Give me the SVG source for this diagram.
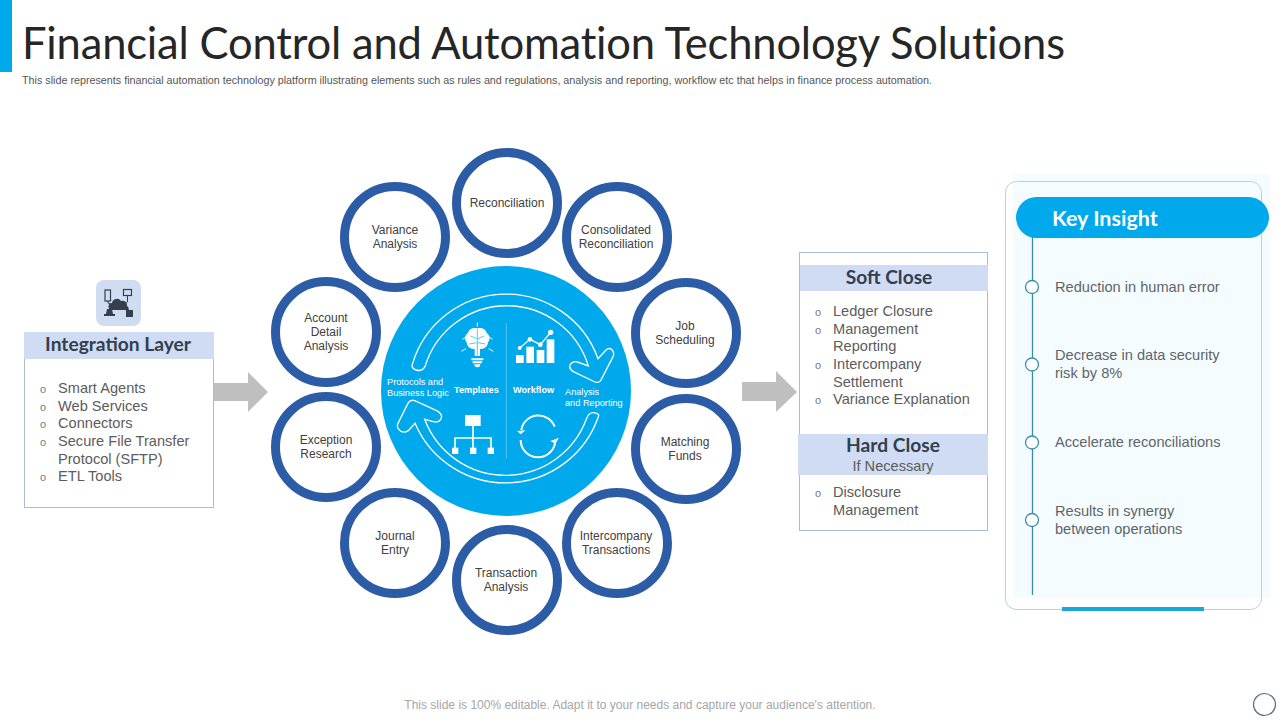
<svg xmlns="http://www.w3.org/2000/svg" width="1280" height="720" viewBox="0 0 1280 720">
<style>
text{font-family:"Liberation Sans",Arial,sans-serif}
.ring{fill:#fff;stroke:#2d5ca6;stroke-width:9}
.rl{font-size:12px;fill:#404040;text-anchor:middle}
.hd{font-family:Lato,"Liberation Sans",sans-serif;font-weight:700;font-size:19.2px;fill:#333f4d;text-anchor:middle}
.li{font-size:14.6px;fill:#5c5c5c}
.ins{font-size:14.6px;fill:#5f646b}
.bul{font-size:11px;fill:#7a7a7a}
.band{fill:#cfdcf3}
.box{fill:#fff;stroke:#a9bdd4;stroke-width:1}
.ah{fill:#bfbfbf}
.dot{fill:#fff;stroke:#3b8ca8;stroke-width:1.3}
.w{fill:#fff}
.wl{fill:none;stroke:#fff;stroke-width:1.3}
.wt{fill:#fff;font-size:9.2px}
</style>
<rect width="1280" height="720" fill="#fff"/>
<g id="header">
<rect x="0" y="0" width="12" height="72" fill="#00a8ec"/>
<text x="22" y="59" font-size="43.500" fill="#262626" style="font-family:Lato,'Liberation Sans',sans-serif;font-variant-ligatures:none" textLength="1043" lengthAdjust="spacing">Financial Control and Automation Technology Solutions</text>
<text x="22" y="84" font-size="10.750" fill="#555">This slide represents financial automation technology platform illustrating elements such as rules and regulations, analysis and reporting, workflow etc that helps in finance process automation.</text>
</g>
<g id="connectors">
<path class="ah" d="M214 383H248V372L268 392L248 412V401H214Z"/>
<path class="ah" d="M742 382H776V371L797 392L776 412V401H742Z"/>
</g>
<g id="integration-layer">
<rect x="96" y="280" width="45" height="46" rx="8" fill="#d0dcf2"/>
<g fill="#333f4d" stroke="#333f4d">
<rect x="105" y="290" width="5.500" height="11" fill="none" stroke-width="1.200"/>
<rect x="123.500" y="289.500" width="8" height="6" fill="none" stroke-width="1.200"/>
<path d="M108 301V303L113 305M127.500 296V302L125 304M113 309L109 311M126 308L129 310" fill="none" stroke-width="1"/>
<path d="M112 310a3.500 3.500 0 0 1 0-7a5 5 0 0 1 9-2a4.500 4.500 0 0 1 6 5a2.500 2.500 0 0 1 1 4Z" stroke="none"/>
<path d="M107 309h5l1 5h2v2h-11v-2h2Z" stroke="none"/>
<rect x="126" y="310" width="7" height="7" stroke="none"/>
</g>
<rect class="box" x="24.500" y="340" width="189" height="167.500"/>
<rect class="band" x="24" y="332" width="190" height="27"/>
<text class="hd" x="118" y="351">Integration Layer</text>
<text class="bul" x="40" y="393">o</text><text class="li" x="58" y="393">Smart Agents</text>
<text class="bul" x="40" y="411">o</text><text class="li" x="58" y="411">Web Services</text>
<text class="bul" x="40" y="428">o</text><text class="li" x="58" y="428">Connectors</text>
<text class="bul" x="40" y="446">o</text><text class="li" x="58" y="446">Secure File Transfer</text>
<text class="li" x="58" y="464">Protocol (SFTP)</text>
<text class="bul" x="40" y="481">o</text><text class="li" x="58" y="481">ETL Tools</text>
</g>
<g id="node-reconciliation"><circle class="ring" cx="507" cy="203" r="50.500"/><text class="rl" x="507" y="207">Reconciliation</text></g>
<g id="node-consolidated"><circle class="ring" cx="617" cy="237" r="50.500"/><text class="rl" x="616" y="234">Consolidated</text><text class="rl" x="616" y="248">Reconciliation</text></g>
<g id="node-job"><circle class="ring" cx="686" cy="333" r="50.500"/><text class="rl" x="685" y="330">Job</text><text class="rl" x="685" y="344">Scheduling</text></g>
<g id="node-matching"><circle class="ring" cx="686" cy="449" r="50.500"/><text class="rl" x="685" y="446">Matching</text><text class="rl" x="685" y="460">Funds</text></g>
<g id="node-intercompany"><circle class="ring" cx="617" cy="543" r="50.500"/><text class="rl" x="616" y="540">Intercompany</text><text class="rl" x="616" y="554">Transactions</text></g>
<g id="node-transaction"><circle class="ring" cx="507" cy="580" r="50.500"/><text class="rl" x="506" y="577">Transaction</text><text class="rl" x="506" y="591">Analysis</text></g>
<g id="node-journal"><circle class="ring" cx="395" cy="543" r="50.500"/><text class="rl" x="395" y="540">Journal</text><text class="rl" x="395" y="554">Entry</text></g>
<g id="node-exception"><circle class="ring" cx="326" cy="447" r="50.500"/><text class="rl" x="326" y="444">Exception</text><text class="rl" x="326" y="458">Research</text></g>
<g id="node-account"><circle class="ring" cx="326" cy="332" r="50.500"/><text class="rl" x="326" y="322">Account</text><text class="rl" x="326" y="336">Detail</text><text class="rl" x="326" y="350">Analysis</text></g>
<g id="node-variance"><circle class="ring" cx="395" cy="237" r="50.500"/><text class="rl" x="395" y="234">Variance</text><text class="rl" x="395" y="248">Analysis</text></g>
<g id="hub">
<circle cx="506" cy="391" r="125" fill="#00a8ec"/>
<g transform="translate(380 260) scale(.33333)">
<path class="wl" style="stroke-width:4" d="M98 310A293 293 0 0 1 654 296L678 270Q690 260 698 272Q704 282 698 292L662 362Q655 370 645 366L580 335Q566 326 570 315Q578 302 592 306L625 318A256 256 0 0 0 135 320Q125 336 108 330Q92 324 98 310Z"/>
<path class="wl" style="stroke-width:4" d="M655 470A295 295 0 0 1 105 490L85 512Q70 522 58 510Q48 500 55 488L85 428Q92 418 104 422L170 452Q188 462 184 475Q176 490 160 485L134 478A259 259 0 0 0 620 475Q628 456 642 458Q660 462 655 470Z"/>
<path d="M379 190V595" style="stroke-width:2;stroke:#7fd3f5;fill:none"/>
<g id="brain">
<path class="w" d="M292 205c-12-4-26 2-28 14c-10 6-12 20-4 28c0 12 12 22 24 20v20h16v-20c12 2 24-8 24-20c8-8 6-22-4-28c-2-12-16-18-28-14Z"/>
<path d="M292 207V285M272 228l18 8M312 228l-18 8M268 252l22-4M316 252l-22-4" style="fill:none;stroke:#00a8ec;stroke-width:2"/>
<path class="w" d="M274 295h36v6h-36ZM278 304h28v6h-28ZM283 313h18a9 9 0 0 1-18 0Z"/>
<path d="M292 188v12M247 238l12-8M338 238l-12-8M244 274l14-8M340 274l-14-8" style="fill:none;stroke:#fff;stroke-width:3"/>
</g>
<g id="chart" class="w">
<rect x="408" y="285" width="23" height="24"/><rect x="439" y="260" width="23" height="49"/><rect x="470" y="270" width="23" height="39"/><rect x="500" y="238" width="23" height="71"/>
<circle cx="419" cy="264" r="6"/><circle cx="450" cy="238" r="7"/><circle cx="481" cy="254" r="7"/><circle cx="512" cy="217" r="8"/>
<path d="M419 264L450 238L481 254L512 217" style="fill:none;stroke:#fff;stroke-width:4"/>
</g>
<g id="hierarchy" class="w">
<rect x="255" y="465" width="47" height="33"/>
<path d="M279 498V534M225 565V534H333V565M279 534V565" style="fill:none;stroke:#fff;stroke-width:5"/>
<rect x="216" y="563" width="19" height="19"/><rect x="270" y="563" width="19" height="19"/><rect x="323" y="563" width="19" height="19"/>
</g>
<g id="cycle">
<path d="M424 510A52 52 0 0 1 524 500M526 540A52 52 0 0 1 422 540" style="fill:none;stroke:#fff;stroke-width:6"/>
<path class="w" d="M411 513L437 511L422 523ZM537 533L511 543L526 551Z"/>
</g>
</g>
<text class="wt" x="387" y="385">Protocols and</text>
<text class="wt" x="387" y="396">Business Logic</text>
<text class="wt" x="454" y="393" font-weight="700">Templates</text>
<text class="wt" x="513" y="393" font-weight="700">Workflow</text>
<text class="wt" x="565" y="395">Analysis</text>
<text class="wt" x="565" y="406">and Reporting</text>
</g>
<g id="close-panel">
<rect class="box" x="799.500" y="252.500" width="188" height="278"/>
<rect class="band" x="800" y="265" width="188" height="26"/>
<text class="hd" x="889" y="284">Soft Close</text>
<text class="bul" x="815" y="316">o</text><text class="li" x="833" y="316">Ledger Closure</text>
<text class="bul" x="815" y="334">o</text><text class="li" x="833" y="334">Management</text>
<text class="li" x="833" y="351">Reporting</text>
<text class="bul" x="815" y="369">o</text><text class="li" x="833" y="369">Intercompany</text>
<text class="li" x="833" y="387">Settlement</text>
<text class="bul" x="815" y="404">o</text><text class="li" x="833" y="404">Variance Explanation</text>
<rect class="band" x="798" y="434" width="190" height="41"/>
<text class="hd" x="893" y="452">Hard Close</text>
<text x="893" y="471" font-size="14.600" fill="#5c5c5c" text-anchor="middle">If Necessary</text>
<text class="bul" x="815" y="497">o</text><text class="li" x="833" y="497">Disclosure</text>
<text class="li" x="833" y="515">Management</text>
</g>
<g id="key-insight">
<rect x="1013" y="174" width="257" height="424" fill="#f5fcff"/>
<rect x="1005.500" y="181.500" width="256" height="428" rx="11" fill="none" stroke="#a0dcef" stroke-width="1"/>
<rect x="1062" y="607" width="142" height="4" fill="#1aa7dc"/>
<path d="M1032.500 237V595" stroke="#3b8ca8" stroke-width="1.300" fill="none"/>
<rect x="1016" y="197" width="253" height="41" rx="20.500" fill="#00a8ec"/>
<text x="1052" y="226" font-size="21.500" font-weight="700" fill="#fff" style="font-family:Lato,'Liberation Sans',sans-serif">Key Insight</text>
<circle class="dot" cx="1032" cy="287" r="6.500"/>
<circle class="dot" cx="1032" cy="364.500" r="6.500"/>
<circle class="dot" cx="1032" cy="442.500" r="6.500"/>
<circle class="dot" cx="1032" cy="520" r="6.500"/>
<text class="ins" x="1055" y="292">Reduction in human error</text>
<text class="ins" x="1055" y="360">Decrease in data security</text>
<text class="ins" x="1055" y="378">risk by 8%</text>
<text class="ins" x="1055" y="447">Accelerate reconciliations</text>
<text class="ins" x="1055" y="516">Results in synergy</text>
<text class="ins" x="1055" y="534">between operations</text>
</g>
<g id="footer">
<text x="640" y="709" font-size="12" fill="#a6a6a6" text-anchor="middle">This slide is 100% editable. Adapt it to your needs and capture your audience's attention.</text>
<circle cx="1264.500" cy="704.500" r="11" fill="#fff" stroke="#5a6f96" stroke-width="1.200"/>
</g>
</svg>
